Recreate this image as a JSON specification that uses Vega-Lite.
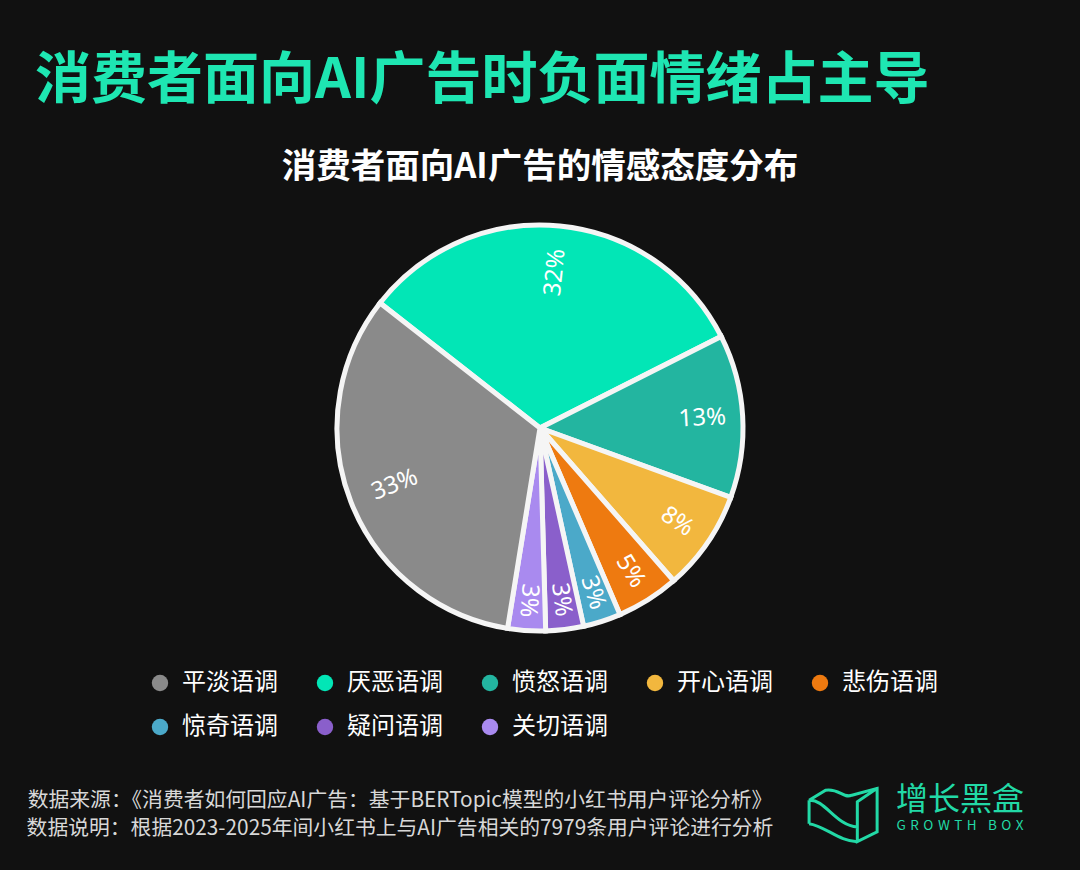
{
  "$schema": "https://vega.github.io/schema/vega-lite/v6.json",
  "background": "#111111",
  "padding": {"left": 25, "top": 52, "right": 25, "bottom": 28},
  "autosize": {"type": "pad"},
  "config": {
    "view": {"stroke": null},
    "font": "Noto Sans CJK SC",
    "concat": {"spacing": 0}
  },
  "title": {
    "text": "消费者面向AI广告时负面情绪占主导",
    "anchor": "start",
    "dx": 10,
    "fontSize": 56,
    "fontWeight": "bold",
    "color": "#1ee6b2",
    "font": "Noto Sans CJK SC",
    "offset": 40
  },
  "datasets": {
    "slices": [
      {"tone": "厌恶语调", "share": 0.32, "seq": 1},
      {"tone": "愤怒语调", "share": 0.13, "seq": 2},
      {"tone": "开心语调", "share": 0.08, "seq": 3},
      {"tone": "悲伤语调", "share": 0.05, "seq": 4},
      {"tone": "惊奇语调", "share": 0.03, "seq": 5},
      {"tone": "疑问语调", "share": 0.03, "seq": 6},
      {"tone": "关切语调", "share": 0.03, "seq": 7},
      {"tone": "平淡语调", "share": 0.33, "seq": 8}
    ],
    "footer": [
      {"line": 1, "text": "数据来源：《消费者如何回应AI广告：基于BERTopic模型的小红书用户评论分析》"},
      {"line": 2, "text": "数据说明：根据2023-2025年间小红书上与AI广告相关的7979条用户评论进行分析"}
    ],
    "logo": [
      {"line": 1, "text": "增长黑盒"},
      {"line": 2, "text": "G\u2004R\u2004O\u2004W\u2004T\u2004H\u2002\u2004B\u2004O\u2004X"}
    ],
    "icon": [{"item": "growth box icon"}]
  },
  "spacing": 139,
  "vconcat": [
    {
      "width": 1030,
      "height": 430,
      "title": {
        "text": "消费者面向AI广告的情感态度分布",
        "anchor": "middle",
        "fontSize": 34.5,
        "fontWeight": "bold",
        "color": "#ffffff",
        "offset": 28
      },
      "data": {"name": "slices"},
      "encoding": {
        "theta": {"field": "share", "type": "quantitative", "stack": true, "scale": {"range": [-0.9076, 5.3756]}},
        "order": {"field": "seq", "type": "quantitative"}
      },
      "layer": [
        {
          "mark": {"type": "arc", "outerRadius": 203, "stroke": "#f5f5f5", "strokeWidth": 5},
          "encoding": {
            "color": {
              "field": "tone",
              "type": "nominal",
              "scale": {
                "domain": ["平淡语调", "厌恶语调", "愤怒语调", "开心语调", "悲伤语调", "惊奇语调", "疑问语调", "关切语调"],
                "range": ["#8a8a8a", "#02e6b6", "#23b5a0", "#f2b73e", "#ee7a10", "#4ba9c9", "#8a5fcb", "#a98aef"]
              },
              "legend": {
                "orient": "none",
                "legendX": 123,
                "legendY": 458,
                "direction": "horizontal",
                "columns": 5,
                "title": null,
                "symbolType": "circle",
                "symbolSize": 270,
                "symbolStrokeWidth": 0,
                "labelFontSize": 24,
                "labelColor": "#ffffff",
                "labelFont": "Noto Sans CJK SC",
                "labelOffset": 10,
                "columnPadding": 35,
                "rowPadding": 20,
                "padding": 0
              }
            }
          }
        },
        {
          "mark": {"type": "text", "fontSize": 24, "color": "#ffffff", "font": "Noto Sans"},
          "encoding": {
            "text": {"field": "share", "type": "quantitative", "format": ".0%"},
            "radius": {"field": "share", "type": "quantitative", "scale": {"type": "log", "domain": [0.03, 0.33], "range": [173, 156]}},
            "angle": {
              "field": "seq",
              "type": "quantitative",
              "scale": {"type": "threshold", "domain": [1.5, 2.5, 3.5, 4.5, 5.5, 6.5, 7.5], "range": [-84, -3, 34, 58, 72, 83, 94, -21]}
            }
          }
        }
      ]
    },
    {
      "spacing": 0,
      "hconcat": [
        {
          "width": 750,
          "height": 56,
          "data": {"name": "footer"},
          "mark": {"type": "text", "fontSize": 20.8, "color": "#d8d8d8", "font": "Noto Sans CJK SC"},
          "encoding": {
            "y": {"field": "line", "type": "ordinal", "axis": null},
            "text": {"field": "text", "type": "nominal"}
          }
        },
        {
          "width": 120,
          "height": 56,
          "data": {"name": "icon"},
          "mark": {
            "type": "point",
            "filled": false,
            "size": 5184,
            "strokeWidth": 3,
            "color": "#22d9a6",
            "opacity": 1,
            "shape": "M-0.72,-0.41 L-0.72,0.24 M-0.72,-0.41 L-0.26,-0.69 C0.12,-0.75 0.22,-0.45 0.47,-0.55 L1.17,-0.74 L1.17,0.47 L0.62,0.74 L0.62,-0.37 L1.17,-0.74 M-0.72,-0.41 C-0.28,-0.45 0.02,0.3 0.62,0.33 M-0.72,0.24 C-0.28,0.3 0.12,0.74 0.62,0.74"
          },
          "encoding": {}
        },
        {
          "width": 130,
          "height": 52,
          "data": {"name": "logo"},
          "mark": {"type": "text", "color": "#22d9a6", "font": "Noto Sans CJK SC"},
          "encoding": {
            "y": {"field": "line", "type": "ordinal", "axis": null},
            "text": {"field": "text", "type": "nominal"},
            "size": {
              "field": "line",
              "type": "quantitative",
              "scale": {"type": "threshold", "domain": [1.5], "range": [32, 13.5]},
              "legend": null
            }
          }
        }
      ]
    }
  ]
}
